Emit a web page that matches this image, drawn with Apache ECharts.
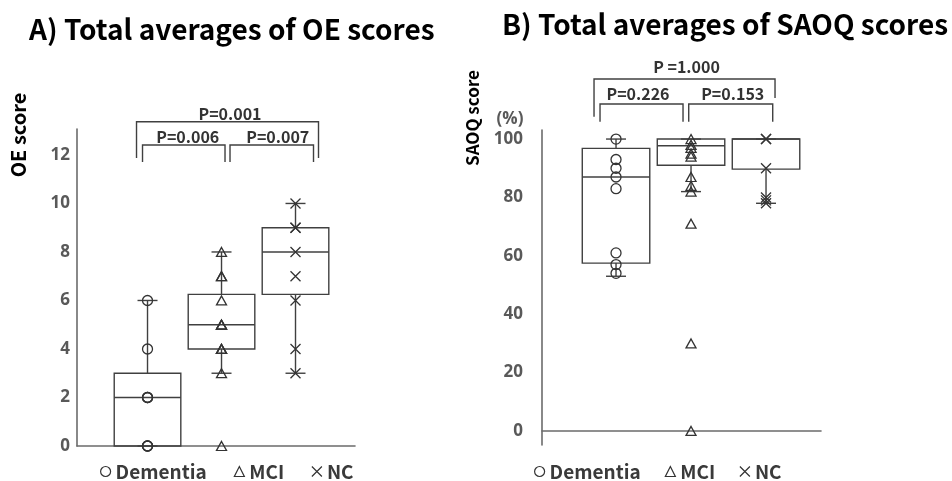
<!DOCTYPE html>
<html>
<head>
<meta charset="utf-8">
<script src="https://cdn.jsdelivr.net/npm/echarts@6/dist/echarts.min.js"></script>
<style>
  html, body { margin: 0; padding: 0; background: #fff; }
  #chart { width: 952px; height: 481px; }
</style>
</head>
<body>
<div id="chart"></div>
<script>
// ---- data ---------------------------------------------------------------
const groups = ['Dementia', 'MCI', 'NC'];

// A) OE scores per participant
const oeDementia = [0, 0, 0, 2, 2, 2, 4, 6];
const oeMci = [0, 3, 4, 4, 4, 5, 5, 5, 6, 7, 7, 8];
const oeNc = [3, 4, 6, 7, 8, 9, 9, 10];
// box summaries: [lower whisker, Q1, median, Q3, upper whisker]
const oeBoxDementia = [0, 0, 2, 3, 6];
const oeBoxMci = [3, 4, 5, 6.25, 8];
const oeBoxNc = [3, 6.25, 8, 9, 10];
const oeTicks = [0, 2, 4, 6, 8, 10, 12];
const oePairs = [[0, 1], [1, 2], [0, 2]];
const oePValues = ['P=0.006', 'P=0.007', 'P=0.001'];

// B) SAOQ scores (%) per participant
const saoqDementia = [54, 57, 61, 83, 87, 90, 93, 100];
const saoqMci = [0, 30, 71, 82, 84, 87, 94, 95, 97, 98, 100];
const saoqNc = [78, 79, 80, 90, 100, 100];
const saoqBoxDementia = [53, 57.5, 87, 96.8, 100];
const saoqBoxMci = [82, 91, 97.7, 100, 100];
const saoqBoxNc = [78, 89.7, 100, 100, 100];
const saoqTicks = [0, 20, 40, 60, 80, 100];
const saoqPairs = [[0, 1], [1, 2], [0, 2]];
const saoqPValues = ['P=0.226', 'P=0.153', 'P =1.000'];

// ---- styling ------------------------------------------------------------
const FONT = '"Noto Sans CJK JP", "Noto Sans", sans-serif';
const NUM_FONT = '"Open Sans", "Noto Sans", sans-serif';
const INK = '#333333';
const AXIS = '#6b6b6b';
const TICK_TXT = '#595959';
const BOX_WIDTH = 0.9;     // in group units
const CAP = 20;            // whisker cap length, px
const X_PATH = 'path://M0,0L10,10M10,0L0,10';
const SYMBOLS = ['circle', 'triangle', X_PATH];
const SYMBOL_SIZES = [10, [10, 9], 10];

// bracket geometry (px): offsets from the group centres and from the grid top
const oeBracketGeom = [
  { dl: -5, dr: 3.5, top: 16, bl: 33, br: 33, tx: 4, ty: 8 },
  { dl: 8.5, dr: 18, top: 16, bl: 33, br: 33, tx: 6, ty: 8 },
  { dl: -11, dr: 23, top: -7.3, bl: 29, br: 29, tx: 2.5, ty: 8 }
];
const saoqBracketGeom = [
  { dl: -16, dr: -8, top: -26, bl: -8.3, br: -8.3, tx: -3.5, ty: 10 },
  { dl: -2.3, dr: 6.7, top: -26, bl: -8.3, br: -8.3, tx: 2, ty: 10 },
  { dl: -22, dr: 9, top: -51, bl: -13.3, br: -32, tx: 2, ty: 12.5 }
];

function renderBox(params, api) {
  const xv = api.value(0);
  const c = api.coord([xv, 0])[0];
  const y = (i) => api.coord([xv, api.value(i)])[1];
  const lo = y(1), q1 = y(2), md = y(3), q3 = y(4), hi = y(5);
  const w = api.size([BOX_WIDTH, 0])[0];
  const h = w / 2, k = CAP / 2;
  const st = { stroke: '#404040', lineWidth: 1.4, fill: 'transparent' };
  return {
    type: 'group',
    children: [
      { type: 'line', shape: { x1: c, y1: q3, x2: c, y2: hi }, style: st },
      { type: 'line', shape: { x1: c, y1: q1, x2: c, y2: lo }, style: st },
      { type: 'line', shape: { x1: c - k, y1: hi, x2: c + k, y2: hi }, style: st },
      { type: 'line', shape: { x1: c - k, y1: lo, x2: c + k, y2: lo }, style: st },
      { type: 'rect', shape: { x: c - h, y: q3, width: w, height: q1 - q3 }, style: st },
      { type: 'line', shape: { x1: c - h, y1: md, x2: c + h, y2: md }, style: st }
    ]
  };
}

function bracketRenderer(pairs, labels, geom) {
  return function (params, api) {
    const i = params.dataIndex;
    const g = geom[i];
    const top = params.coordSys.y;
    const xa = api.coord([pairs[i][0] + 1, 0])[0] + g.dl;
    const xb = api.coord([pairs[i][1] + 1, 0])[0] + g.dr;
    const yt = top + g.top;
    return {
      type: 'group',
      children: [
        {
          type: 'polyline',
          shape: { points: [[xa, top + g.bl], [xa, yt], [xb, yt], [xb, top + g.br]] },
          style: { stroke: '#404040', lineWidth: 1.4, fill: null }
        },
        {
          type: 'text',
          x: (xa + xb) / 2 + g.tx,
          y: yt - g.ty,
          style: {
            text: labels[i], fill: INK, align: 'center', verticalAlign: 'middle',
            fontSize: 16, fontWeight: 'bold', fontFamily: FONT
          }
        }
      ]
    };
  };
}

function scatterSeries(values, gi, axisIndex) {
  return {
    type: 'scatter',
    name: groups[gi],
    xAxisIndex: axisIndex,
    yAxisIndex: axisIndex,
    symbol: SYMBOLS[gi],
    symbolSize: SYMBOL_SIZES[gi],
    itemStyle: { color: 'transparent', borderColor: INK, borderWidth: 1.3, opacity: 1 },
    emphasis: { disabled: true },
    z: 5,
    data: values.map((v) => [gi + 1, v])
  };
}

function boxSeries(boxes, axisIndex) {
  return {
    type: 'custom',
    xAxisIndex: axisIndex,
    yAxisIndex: axisIndex,
    renderItem: renderBox,
    encode: { x: 0, y: [1, 2, 3, 4, 5] },
    silent: true,
    z: 3,
    data: boxes.map((b, i) => [i + 1].concat(b))
  };
}

function bracketSeries(pairs, labels, geom, axisIndex) {
  return {
    type: 'custom',
    xAxisIndex: axisIndex,
    yAxisIndex: axisIndex,
    renderItem: bracketRenderer(pairs, labels, geom),
    clip: false,
    silent: true,
    encode: { x: [0, 1], y: 2 },
    data: pairs.map((p) => [p[0] + 1, p[1] + 1, 0])
  };
}

function legendFor(left, gap) {
  return {
    left: left,
    top: 457,
    itemWidth: 10,
    itemHeight: 10,
    itemGap: gap,
    selectedMode: false,
    textStyle: { fontSize: 19, fontWeight: 'bold', color: '#3a3a3a', fontFamily: FONT },
    itemStyle: { color: 'transparent', borderColor: INK, borderWidth: 1.2 },
    data: groups.map((g, i) => ({ name: g, icon: SYMBOLS[i] }))
  };
}

const valueAxisCommon = {
  type: 'value',
  axisLine: { show: true, lineStyle: { color: AXIS, width: 1.6 } },
  axisTick: { show: false },
  splitLine: { show: false }
};

const option = {
  animation: false,
  backgroundColor: '#ffffff',
  title: [
    {
      text: 'A) Total averages of OE scores', left: 24, top: 10,
      textStyle: { fontSize: 28, fontWeight: 'bold', color: '#000', fontFamily: FONT }
    },
    {
      text: 'B) Total averages of SAOQ scores', left: 497, top: 5,
      textStyle: { fontSize: 28, fontWeight: 'bold', color: '#000', fontFamily: FONT }
    }
  ],
  legend: [legendFor(95, 27), legendFor(529, 24)],
  grid: [
    { left: 77, top: 129, width: 278, height: 317 },
    { left: 542, top: 130, width: 279, height: 315 }
  ],
  xAxis: [
    Object.assign({}, valueAxisCommon, { gridIndex: 0, min: 0.047, max: 3.804, axisLabel: { show: false } }),
    Object.assign({}, valueAxisCommon, { gridIndex: 1, min: 0.013, max: 3.733, axisLabel: { show: false } })
  ],
  yAxis: [
    Object.assign({}, valueAxisCommon, {
      gridIndex: 0, min: 0, max: 13.07,
      axisLabel: {
        customValues: oeTicks, margin: 7, color: TICK_TXT,
        fontSize: 17, fontWeight: 'bold', fontFamily: NUM_FONT
      }
    }),
    Object.assign({}, valueAxisCommon, {
      gridIndex: 1, min: -4.8, max: 103.1,
      axisLabel: {
        customValues: saoqTicks, margin: 19, color: TICK_TXT,
        fontSize: 17, fontWeight: 'bold', fontFamily: NUM_FONT
      }
    })
  ],
  graphic: [
    {
      type: 'text', x: 18, y: 135, rotation: Math.PI / 2,
      style: {
        text: 'OE score', align: 'center', verticalAlign: 'middle',
        fill: '#000', fontSize: 20, fontWeight: 'bold', fontFamily: FONT
      }
    },
    {
      type: 'text', x: 473, y: 118, rotation: Math.PI / 2,
      style: {
        text: 'SAOQ score', align: 'center', verticalAlign: 'middle',
        fill: '#000', fontSize: 17, fontWeight: 'bold', fontFamily: FONT
      }
    },
    {
      type: 'text', x: 510, y: 119,
      style: {
        text: '(%)', align: 'center', verticalAlign: 'middle',
        fill: TICK_TXT, fontSize: 17, fontWeight: 'bold', fontFamily: NUM_FONT
      }
    }
  ],
  series: [
    boxSeries([oeBoxDementia, oeBoxMci, oeBoxNc], 0),
    scatterSeries(oeDementia, 0, 0),
    scatterSeries(oeMci, 1, 0),
    scatterSeries(oeNc, 2, 0),
    bracketSeries(oePairs, oePValues, oeBracketGeom, 0),
    boxSeries([saoqBoxDementia, saoqBoxMci, saoqBoxNc], 1),
    scatterSeries(saoqDementia, 0, 1),
    scatterSeries(saoqMci, 1, 1),
    scatterSeries(saoqNc, 2, 1),
    bracketSeries(saoqPairs, saoqPValues, saoqBracketGeom, 1)
  ]
};

const chart = echarts.init(document.getElementById('chart'), null, { renderer: 'canvas' });
chart.setOption(option);
</script>
</body>
</html>
